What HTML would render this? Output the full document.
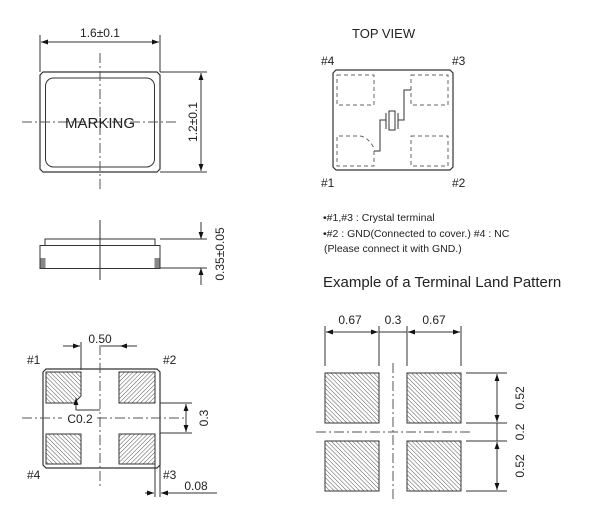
<!DOCTYPE html>
<html><head><meta charset="utf-8"><style>
html,body{margin:0;padding:0;background:#fff;}
svg{display:block;font-family:"Liberation Sans",sans-serif;}
</style></head><body>
<svg width="600" height="518" viewBox="0 0 600 518" xmlns="http://www.w3.org/2000/svg">
<defs>
<pattern id="h" patternUnits="userSpaceOnUse" width="3" height="3" patternTransform="rotate(-45)">
<rect width="3" height="3" fill="#fff"/><line x1="0" y1="0" x2="0" y2="3" stroke="#555" stroke-width="1"/>
</pattern>
<pattern id="g" patternUnits="userSpaceOnUse" width="3" height="3" patternTransform="rotate(45)">
<rect width="3" height="3" fill="#fff"/><line x1="0" y1="0" x2="0" y2="3" stroke="#555" stroke-width="1"/>
</pattern>
<marker id="a" viewBox="0 0 10 10" refX="10" refY="5" markerWidth="7" markerHeight="7" orient="auto-start-reverse"><path d="M0,1.5L10,5L0,8.5z" fill="#111"/></marker>
</defs>
<g stroke="#333" fill="none" stroke-width="1">
<path d="M43,72H157L160,75V169L157,172H43L40,169V75Z" stroke-width="1.2"/>
<rect x="45.5" y="78" width="109" height="89" rx="8"/>
<line x1="100" y1="53" x2="100" y2="190" stroke-dasharray="10,3,2,3" stroke="#555"/>
<line x1="22" y1="122" x2="178" y2="122" stroke-dasharray="10,3,2,3" stroke="#555"/>
<line x1="40" y1="35" x2="40" y2="72"/><line x1="160" y1="35" x2="160" y2="72"/>
<line x1="41" y1="42" x2="159" y2="42" marker-start="url(#a)" marker-end="url(#a)"/>
<line x1="160" y1="72" x2="207" y2="72"/><line x1="160" y1="172" x2="207" y2="172"/>
<line x1="201" y1="73" x2="201" y2="171" marker-start="url(#a)" marker-end="url(#a)"/>
<line x1="100" y1="220" x2="100" y2="280"/>
<rect x="45" y="239" width="110" height="6.5"/>
<rect x="40" y="245.5" width="120" height="23"/>
<rect x="40.5" y="258" width="5" height="10" fill="#888" stroke="none"/>
<rect x="154.5" y="258" width="5" height="10" fill="#888" stroke="none"/>
<line x1="160" y1="239" x2="207" y2="239"/><line x1="160" y1="268" x2="207" y2="268"/>
<line x1="201" y1="222" x2="201" y2="239" marker-end="url(#a)"/>
<line x1="201" y1="285" x2="201" y2="268" marker-end="url(#a)"/>
<path d="M336,70H450L453,73V167L450,170H336L333,167V73Z" stroke-width="1.2"/>
<g stroke-dasharray="4,3" stroke="#666">
<rect x="337" y="75" width="37" height="30"/>
<rect x="411" y="75" width="37" height="30"/>
<path d="M374,151V166H337V136H360Q368,137 374,148"/>
<rect x="411" y="136" width="37" height="30"/>
</g>
<path d="M374,151H380V120H386M398,120H404V90H411"/>
<line x1="386" y1="113" x2="386" y2="129"/><line x1="398" y1="113" x2="398" y2="129"/>
<rect x="389" y="111" width="6" height="19"/>
<path d="M46,369H157L160,372V465L157,468H46L43,465V372Z" stroke-width="1.2"/>
<path d="M46,372H81V396L74,403H46Z" fill="url(#h)"/>
<rect x="119" y="372" width="36" height="31" fill="url(#g)"/>
<rect x="46" y="434" width="35" height="30" fill="url(#h)"/>
<rect x="119" y="434" width="36" height="30" fill="url(#g)"/>
<line x1="100" y1="345" x2="100" y2="487" stroke-dasharray="10,3,2,3" stroke="#555"/>
<line x1="22" y1="418" x2="62" y2="418" stroke-dasharray="10,3,2,3" stroke="#555"/>
<line x1="97" y1="418" x2="185" y2="418" stroke-dasharray="10,3,2,3" stroke="#555"/>
<line x1="81" y1="342" x2="81" y2="370"/>
<line x1="63" y1="346" x2="80" y2="346" marker-end="url(#a)"/>
<line x1="137" y1="346" x2="120" y2="346" marker-end="url(#a)"/>
<line x1="101" y1="346" x2="120" y2="346"/>
<path d="M100,410H76V398" marker-end="url(#a)"/>
<line x1="160" y1="403" x2="192" y2="403"/><line x1="160" y1="433" x2="192" y2="433"/>
<line x1="186" y1="404" x2="186" y2="432" marker-start="url(#a)" marker-end="url(#a)"/>
<line x1="155" y1="464" x2="155" y2="497"/><line x1="160" y1="464" x2="160" y2="497"/>
<line x1="145" y1="493" x2="154" y2="493" marker-end="url(#a)"/>
<line x1="217" y1="493" x2="161" y2="493" marker-end="url(#a)"/>
<rect x="325" y="373" width="54" height="50" fill="url(#h)"/>
<rect x="407" y="373" width="54" height="50" fill="url(#h)"/>
<rect x="325" y="441" width="54" height="50" fill="url(#h)"/>
<rect x="407" y="441" width="54" height="50" fill="url(#h)"/>
<line x1="393" y1="363" x2="393" y2="500" stroke-dasharray="10,3,2,3" stroke="#555"/>
<line x1="316" y1="432" x2="470" y2="432" stroke-dasharray="10,3,2,3" stroke="#555"/>
<line x1="325" y1="326" x2="325" y2="366"/><line x1="379" y1="326" x2="379" y2="366"/>
<line x1="407" y1="326" x2="407" y2="366"/><line x1="461" y1="326" x2="461" y2="366"/>
<line x1="326" y1="332" x2="378" y2="332" marker-start="url(#a)" marker-end="url(#a)"/>
<line x1="379" y1="332" x2="407" y2="332"/>
<line x1="408" y1="332" x2="460" y2="332" marker-start="url(#a)" marker-end="url(#a)"/>
<line x1="466" y1="373" x2="507" y2="373"/><line x1="466" y1="423" x2="507" y2="423"/>
<line x1="466" y1="441" x2="507" y2="441"/><line x1="466" y1="491" x2="507" y2="491"/>
<line x1="497" y1="374" x2="497" y2="422" marker-start="url(#a)" marker-end="url(#a)"/>
<line x1="497" y1="423" x2="497" y2="441"/>
<line x1="497" y1="442" x2="497" y2="490" marker-start="url(#a)" marker-end="url(#a)"/>
</g>
<g fill="#222" font-size="12">
<text x="100" y="37" text-anchor="middle">1.6±0.1</text>
<text x="100" y="128" text-anchor="middle" font-size="15">MARKING</text>
<text transform="translate(197,122) rotate(-90)" text-anchor="middle">1.2±0.1</text>
<text transform="translate(224,254) rotate(-90)" text-anchor="middle">0.35±0.05</text>
<text x="352" y="38" font-size="13">TOP VIEW</text>
<text x="321" y="65">#4</text><text x="452" y="65">#3</text>
<text x="321" y="187">#1</text><text x="452" y="187">#2</text>
<g font-size="10.5">
<text x="323" y="221">•#1,#3 : Crystal terminal</text>
<text x="323" y="237">•#2 : GND(Connected to cover.)  #4 : NC</text>
<text x="324" y="252">(Please connect it with GND.)</text>
</g>
<text x="323" y="287" font-size="15">Example of a Terminal Land Pattern</text>
<text x="100" y="343" text-anchor="middle">0.50</text>
<text x="27" y="364">#1</text><text x="163" y="364">#2</text>
<text x="27" y="479">#4</text><text x="163" y="479">#3</text>
<text x="80" y="423" text-anchor="middle">C0.2</text>
<text transform="translate(208,418) rotate(-90)" text-anchor="middle">0.3</text>
<text x="196" y="490" text-anchor="middle">0.08</text>
<text x="350" y="324" text-anchor="middle">0.67</text>
<text x="393" y="324" text-anchor="middle">0.3</text>
<text x="434" y="324" text-anchor="middle">0.67</text>
<text transform="translate(524,398) rotate(-90)" text-anchor="middle">0.52</text>
<text transform="translate(524,432) rotate(-90)" text-anchor="middle">0.2</text>
<text transform="translate(524,466) rotate(-90)" text-anchor="middle">0.52</text>
</g>
</svg>
</body></html>
